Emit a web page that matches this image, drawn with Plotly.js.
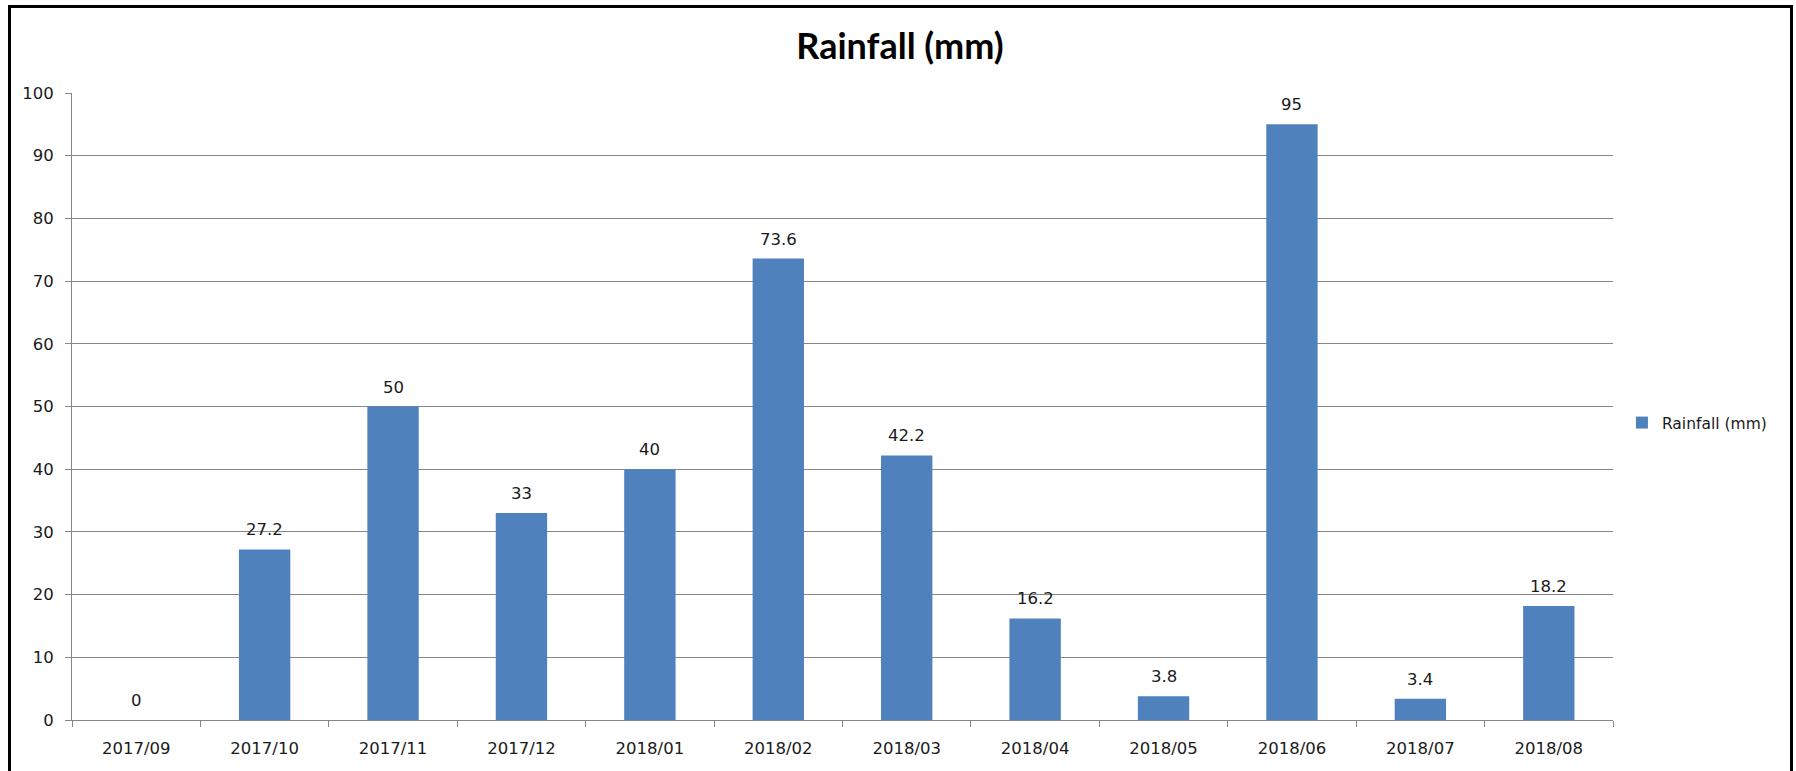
<!DOCTYPE html>
<html>
<head>
<meta charset="utf-8">
<script src="https://cdn.plot.ly/plotly-3.0.1.min.js"></script>
<style>
  html, body { margin: 0; padding: 0; background: #fff; overflow: hidden; }
  #chart { width: 1796px; height: 771px; }
  #frame { position: absolute; left: 8px; top: 5px; width: 1779px; height: 820px;
           border: 3px solid #000; pointer-events: none; }
</style>
</head>
<body>
<div id="chart"></div>
<div id="frame"></div>
<script>
const categories = ["2017/09","2017/10","2017/11","2017/12","2018/01","2018/02","2018/03","2018/04","2018/05","2018/06","2018/07","2018/08"];
const rainfall = [0, 27.2, 50, 33, 40, 73.6, 42.2, 16.2, 3.8, 95, 3.4, 18.2];
const seriesName = "Rainfall (mm)";
const chartTitle = "Rainfall (mm)";

const labelFont = { family: "DejaVu Sans, Verdana, sans-serif", size: 16.5, color: "#1a1a1a" };

const trace = {
  type: "bar",
  x: categories,
  y: rainfall,
  name: seriesName,
  marker: { color: "#4F81BD", line: { width: 0 } },
  showlegend: true,
  hoverinfo: "x+y"
};

const annotations = categories.map((c, i) => ({
  x: c, y: rainfall[i], xref: "x", yref: "y",
  text: String(rainfall[i]),
  showarrow: false, yanchor: "bottom", yshift: 8,
  font: labelFont
}));

const layout = {
  width: 1796, height: 771,
  margin: { l: 72, r: 183, t: 93, b: 51 },
  paper_bgcolor: "#fff", plot_bgcolor: "#fff",
  title: { text: "<b>" + chartTitle + "</b>", x: 900 / 1796, xanchor: "center", y: 1 - 46 / 771, yanchor: "middle",
           font: { family: "Lato, Calibri, sans-serif", size: 36, color: "#000" } },
  bargap: 0.6,
  xaxis: {
    type: "category",
    showgrid: false,
    showline: true, linecolor: "#868686", linewidth: 1,
    ticks: "outside", tickson: "boundaries", ticklen: 6, tickcolor: "#868686",
    tickfont: labelFont,
    ticklabelstandoff: 13,
    zeroline: false
  },
  yaxis: {
    range: [0, 100], dtick: 10, tick0: 0,
    showgrid: true, gridcolor: "#878787", gridwidth: 1,
    showline: true, linecolor: "#868686", linewidth: 1,
    ticks: "outside", ticklen: 6, tickcolor: "#868686",
    tickfont: labelFont,
    ticklabelstandoff: 8,
    zeroline: false
  },
  legend: {
    x: 1.0058, xanchor: "left", y: (720 - 423) / 627, yanchor: "middle",
    font: { family: "DejaVu Sans, Verdana, sans-serif", size: 15.5, color: "#1a1a1a" },
    bgcolor: "rgba(0,0,0,0)"
  },
  annotations: annotations
};

Plotly.newPlot("chart", [trace], layout, { staticPlot: true, displayModeBar: false });
</script>
</body>
</html>
